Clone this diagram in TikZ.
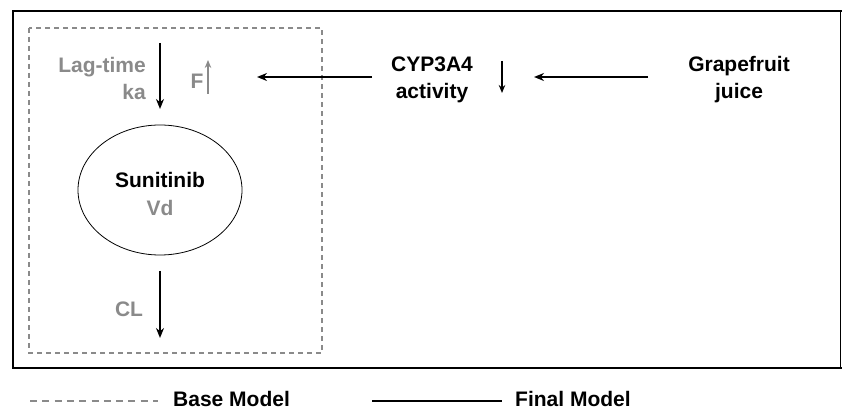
\documentclass[tikz,border=0pt]{standalone}
\usepackage{fontspec}
\setmainfont{Liberation Sans}
\usetikzlibrary{arrows.meta,shapes.geometric}
\definecolor{lg}{HTML}{8A8A8A}
\begin{document}
\begin{tikzpicture}[x=1pt,y=-1pt,
  lbl/.style={font=\fontsize{21}{27}\selectfont\bfseries, inner sep=0pt, align=center},
  glbl/.style={lbl, text=lg},
  leglbl/.style={font=\fontsize{21}{27}\selectfont\bfseries, inner sep=0pt},
  arr/.style={line width=2pt, -{Stealth[length=10pt,width=8pt]}},
  thinarr/.style={line width=1.3pt, -{Stealth[length=8pt,width=6.5pt]}},
  dashbox/.style={draw=lg, line width=1.5pt, dash pattern=on 5pt off 4pt}]
\useasboundingbox (0,0) rectangle (842,411);
% frames
\draw[line width=2pt, line cap=rect] (840.5,368) -- (13,368) -- (13,11) -- (840.5,11);
\draw[line width=1pt] (840.5,11) -- (840.5,368);
\draw[dashbox] (29,28) rectangle (322,353);
% nodes
\node[draw, ellipse, line width=0.8pt, minimum width=164pt, minimum height=130pt, inner sep=0pt] (sun) at (160,190) {};
\node[lbl] (suntxt) at (160,180) {Sunitinib};
\node[glbl] (vd) at (160,208) {Vd};
\node[glbl, align=right, anchor=east] (lag) at (146,78) {Lag-time\\ka};
\node[glbl] (f) at (197,81) {F};
\node[glbl] (cl) at (129,309) {CL};
\node[lbl] (cyp) at (432,80) {CYP3A4\\activity};
\node[lbl] (grape) at (739,80) {Grapefruit\\juice};
% arrow end points
\coordinate (ka1) at (160,43);
\coordinate (ka2) at (160,109);
\coordinate (cl1) at (160,271);
\coordinate (cl2) at (160,338);
\coordinate (fu1) at (208,94);
\coordinate (fu2) at (208,60);
\coordinate (cd1) at (502,61);
\coordinate (cd2) at (502,93);
\coordinate (h1a) at (372,77);
\coordinate (h1b) at (257,77);
\coordinate (h2a) at (648,77);
\coordinate (h2b) at (534,77);
\draw[arr] (ka1) -- (ka2);
\draw[arr] (cl1) -- (cl2);
\draw[thinarr, draw=lg, line width=2pt] (fu1) -- (fu2);
\draw[thinarr] (cd1) -- (cd2);
\draw[arr] (h1a) -- (h1b);
\draw[arr] (h2a) -- (h2b);
% legend
\coordinate (lb1) at (30,401);
\coordinate (lb2) at (158,401);
\coordinate (lf1) at (372,401);
\coordinate (lf2) at (502,401);
\draw[draw=lg, line width=1.5pt, dash pattern=on 7pt off 5.3pt] (lb1) -- (lb2);
\draw[line width=2pt] (lf1) -- (lf2);
\node[leglbl, anchor=base west] (base) at (173,406.5) {Base Model};
\node[leglbl, anchor=base west] (final) at (515,406.5) {Final Model};
\end{tikzpicture}
\end{document}
